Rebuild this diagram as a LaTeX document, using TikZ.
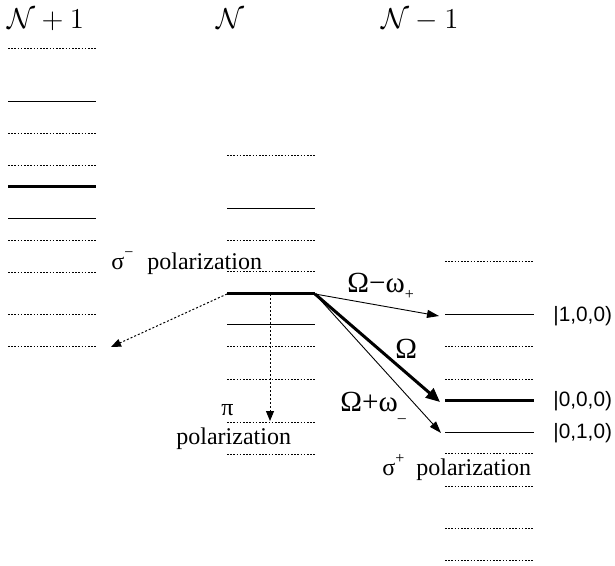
\documentclass[tikz,border=0pt]{standalone}
\usepackage[no-math]{fontspec}
\newfontfamily\serf{Liberation Serif}
\newfontfamily\sansf{Liberation Sans}
\usetikzlibrary{arrows.meta}
\begin{document}
\begin{tikzpicture}[x=0.5pt,y=-0.5pt,
  lvl/.style={line width=0.5pt},
  thk/.style={line width=1.5pt},
  dotl/.style={line width=0.5pt,dash pattern=on 0.8pt off 0.8pt},
  thinarr/.style={line width=0.45pt,-{Triangle[length=6pt,width=4pt]}},
  thickarr/.style={line width=1.5pt,-{Triangle[length=7pt,width=6pt]}},
  dotarr/.style={line width=0.5pt,dash pattern=on 1pt off 1pt,-{Triangle[length=5pt,width=4pt]}},
  head/.style={anchor=base west,inner sep=0pt,font=\fontsize{14.8}{16}\selectfont},
  pol/.style={anchor=base west,inner sep=0pt,font=\serf\fontsize{12}{14}\selectfont},
  freq/.style={anchor=base west,inner sep=0pt,font=\serf\fontsize{14.6}{16}\selectfont},
  ket/.style={anchor=west,inner sep=0pt,font=\sansf\fontsize{10.4}{12}\selectfont}]
\useasboundingbox (0,0) rectangle (615,566);
% headings
\node[head] (h1) at (7,29) {$\mathcal{N}+1$};
\node[head,anchor=base] (h2) at (230,29) {$\mathcal{N}$};
\node[head] (h3) at (381,29) {$\mathcal{N}-1$};
% left column
\foreach \y in {49,134,166,241,273,315,347} \draw[dotl] (8,\y) -- (96,\y);
\foreach \y in {102,219} \draw[lvl] (8,\y) -- (96,\y);
\draw[thk] (8,187) -- (96,187);
% middle column
\foreach \y in {156,241,272,347,379,422,454} \draw[dotl] (227,\y) -- (315,\y);
\foreach \y in {209,325} \draw[lvl] (227,\y) -- (315,\y);
\draw[thk] (227,294) -- (315,294);
% right column
\foreach \y in {262,347,379,453,486,528,560} \draw[dotl] (445,\y) -- (534,\y);
\foreach \y in {315,432} \draw[lvl] (445,\y) -- (534,\y);
\draw[thk] (445,400) -- (534,400);
% coordinates
\coordinate (gR) at (315,294);
\coordinate (gL) at (227,294);
\coordinate (gM) at (270,294);
\coordinate (t1) at (439,316);
\coordinate (t2) at (440,402);
\coordinate (t3) at (441,433);
\coordinate (tS) at (111,347);
\coordinate (tP) at (270,421);
% arrows
\draw[thinarr] (gR) -- (t1);
\draw[thickarr] (gR) -- (t2);
\draw[thinarr] (gR) -- (t3);
\draw[dotarr] (gL) -- (tS);
\draw[dotarr] (gM) -- (tP);
% labels
\node[pol] (sm) at (111,270) {σ\raisebox{6pt}{\fontsize{8}{8}\selectfont −}\hspace{4pt} polarization};
\node[pol] (pi) at (221,415) {π};
\node[pol] (pp) at (176,444) {polarization};
\node[pol] (sp) at (382,475) {σ\raisebox{6pt}{\fontsize{8}{8}\selectfont +}\hspace{3pt} polarization};
\node[freq] (f1) at (347,293) {Ω−ω\raisebox{-3pt}{\fontsize{8}{8}\selectfont +}};
\node[freq] (f2) at (395,358) {Ω};
\node[freq] (f3) at (340,411) {Ω+ω\raisebox{-3pt}{\fontsize{8}{8}\selectfont \_}};
\node[ket] (k1) at (553,316) {|1,0,0)};
\node[ket] (k2) at (553,401) {|0,0,0)};
\node[ket] (k3) at (553,433) {|0,1,0)};
\end{tikzpicture}
\end{document}
